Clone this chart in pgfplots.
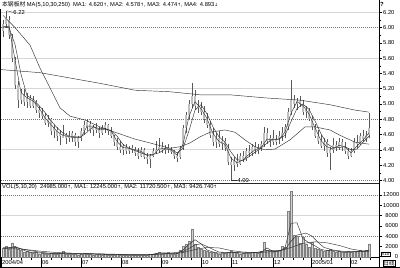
\documentclass[border=0pt]{standalone}
\usepackage{fontspec}
\setmainfont{Liberation Sans}
\newfontfamily\cjk{Noto Sans CJK SC}
\newfontfamily\sym{DejaVu Sans}
\usepackage{pgfplots}
\usepackage{pgfplotstable}
\pgfplotsset{compat=1.18}
\newcommand{\up}{{\sym\fontsize{4.5}{5}\selectfont ↑}}
\newcommand{\dn}{{\sym\fontsize{4.5}{5}\selectfont ↓}}
\newcommand{\tf}{\fontsize{5.8}{6.5}\selectfont}

\pgfplotstableread{
x o h l c v
3 5.95 6.10 5.88 6.05 1600
6 6.05 6.22 6.00 6.12 2000
9 6.10 6.15 5.85 5.90 1500
12 5.88 5.92 5.55 5.60 2700
15 5.58 5.62 5.20 5.25 1800
18 5.25 5.30 4.95 5.05 1400
21 5.05 5.20 5.00 5.15 1200
24 5.12 5.20 4.98 5.02 900
27 5.02 5.15 4.95 5.08 1000
30 5.08 5.12 4.95 4.98 800
33 4.98 5.10 4.95 5.05 700
36 5.02 5.05 4.88 4.92 900
39 4.92 4.98 4.82 4.88 600
42 4.88 4.95 4.80 4.84 700
45 4.84 4.88 4.72 4.75 600
48 4.75 4.85 4.70 4.80 500
51 4.80 4.82 4.60 4.65 700
54 4.65 4.72 4.55 4.68 500
57 4.66 4.70 4.52 4.58 600
60 4.58 4.66 4.46 4.62 700
63 4.60 4.72 4.55 4.56 1000
66 4.56 4.62 4.48 4.60 600
69 4.58 4.64 4.50 4.55 500
72 4.55 4.65 4.50 4.62 500
75 4.60 4.62 4.45 4.50 600
78 4.50 4.58 4.43 4.55 400
81 4.55 4.68 4.52 4.64 500
84 4.64 4.78 4.60 4.72 700
87 4.70 4.80 4.65 4.76 600
90 4.74 4.78 4.62 4.66 500
93 4.66 4.72 4.58 4.70 400
96 4.70 4.75 4.62 4.66 500
99 4.66 4.70 4.55 4.62 600
102 4.62 4.72 4.60 4.68 400
105 4.68 4.76 4.62 4.72 500
108 4.72 4.74 4.60 4.64 400
111 4.64 4.70 4.55 4.58 350
114 4.58 4.60 4.45 4.50 400
117 4.50 4.56 4.40 4.44 500
120 4.44 4.52 4.36 4.40 300
123 4.40 4.48 4.33 4.45 350
126 4.44 4.48 4.34 4.38 300
129 4.38 4.45 4.35 4.42 400
132 4.42 4.46 4.36 4.40 300
135 4.40 4.44 4.32 4.36 350
138 4.36 4.42 4.28 4.32 300
141 4.32 4.44 4.30 4.40 400
144 4.40 4.42 4.28 4.30 300
147 4.30 4.36 4.22 4.28 350
150 4.28 4.34 4.16 4.32 500
153 4.32 4.42 4.30 4.38 600
156 4.38 4.52 4.34 4.40 700
159 4.40 4.56 4.36 4.44 900
162 4.44 4.50 4.36 4.40 600
165 4.40 4.46 4.34 4.42 700
168 4.42 4.48 4.36 4.40 800
171 4.40 4.44 4.34 4.38 600
174 4.38 4.40 4.28 4.32 500
177 4.32 4.36 4.24 4.30 700
180 4.30 4.45 4.28 4.42 1200
183 4.42 4.72 4.40 4.68 2000
186 4.68 4.90 4.62 4.85 2500
189 4.85 5.05 4.80 5.00 3000
192 5.00 5.27 4.95 5.10 5400
195 5.10 5.18 4.92 4.98 2400
198 4.98 5.05 4.88 4.95 1800
201 4.95 5.02 4.85 4.90 1500
204 4.90 4.98 4.75 4.80 1200
207 4.80 4.88 4.68 4.72 1000
210 4.72 4.78 4.55 4.60 900
213 4.60 4.68 4.45 4.50 800
216 4.50 4.62 4.42 4.56 700
219 4.56 4.64 4.44 4.48 600
222 4.48 4.58 4.40 4.52 800
225 4.52 4.55 4.38 4.42 700
228 4.42 4.48 4.20 4.24 900
231 4.24 4.30 4.00 4.20 1000
234 4.20 4.30 4.12 4.26 800
237 4.26 4.34 4.18 4.22 700
240 4.22 4.36 4.20 4.32 600
243 4.32 4.38 4.24 4.28 700
246 4.28 4.42 4.26 4.38 800
249 4.38 4.46 4.30 4.36 700
252 4.36 4.48 4.32 4.44 900
255 4.44 4.50 4.34 4.40 800
258 4.40 4.48 4.34 4.42 700
261 4.42 4.52 4.38 4.48 1000
264 4.48 4.70 4.44 4.62 2900
267 4.62 4.68 4.48 4.52 1200
270 4.52 4.60 4.44 4.56 1000
273 4.56 4.66 4.46 4.50 900
276 4.50 4.60 4.46 4.54 1000
279 4.54 4.64 4.48 4.58 1300
282 4.58 4.70 4.52 4.62 2000
285 4.62 4.74 4.55 4.70 1800
288 4.70 4.95 4.66 4.90 8800
291 4.90 5.31 4.85 5.05 12700
294 5.05 5.12 4.95 5.00 4200
297 5.00 5.08 4.92 5.04 4000
300 5.04 5.10 4.96 5.00 2700
303 5.00 5.05 4.85 4.90 3900
306 4.90 4.98 4.82 4.92 2500
309 4.92 4.95 4.78 4.80 1800
312 4.80 4.84 4.66 4.70 2900
315 4.70 4.74 4.55 4.58 1600
318 4.58 4.66 4.48 4.52 1400
321 4.52 4.60 4.42 4.45 1200
324 4.45 4.56 4.38 4.50 1100
327 4.50 4.54 4.30 4.36 1300
330 4.36 4.44 4.13 4.40 1400
333 4.40 4.55 4.36 4.46 1000
336 4.46 4.52 4.38 4.42 900
339 4.42 4.56 4.40 4.50 1100
342 4.50 4.54 4.38 4.44 900
345 4.44 4.50 4.34 4.38 800
348 4.38 4.42 4.28 4.32 1000
351 4.32 4.42 4.30 4.38 900
354 4.38 4.56 4.36 4.50 1100
357 4.50 4.60 4.42 4.48 1000
360 4.48 4.62 4.46 4.58 1200
363 4.58 4.66 4.50 4.54 1000
366 4.54 4.64 4.50 4.60 1300
369 4.60 4.88 4.56 4.68 2500
}\price

\tikzset{
  gs/.style={black!16, line width=1.1bp},
  gd/.style={black!55, line width=0.4bp, dash pattern=on 0.6bp off 1.4bp},
  mal/.style={black!80, line width=0.45bp, mark=none},
}

\begin{document}
\begin{tikzpicture}[x=1bp,y=1bp]
\fill[white] (0,0) rectangle (400,268);
% grid lines of the price panel
\foreach \yy in {255.7,209.9,179.3,118.2} \draw[gs] (1,\yy) -- (379,\yy);
\foreach \yy in {240.4,148.7,87.6} \draw[gd] (1,\yy) -- (379,\yy);
% grid lines of the volume panel
\draw[gs] (1,52.4) -- (379,52.4);
\foreach \yy in {73.0,31.9} \draw[gd] (1,\yy) -- (379,\yy);

\begin{axis}[
  at={(1bp,85bp)}, anchor=south west, scale only axis,
  width=378bp, height=174bp,
  xmin=1, xmax=379, ymin=3.9657, ymax=6.2432,
  axis x line=none, axis y line*=right,
  axis line style={black, line width=0.6bp},
  ytick={4,4.2,4.4,4.6,4.8,5,5.2,5.4,5.6,5.8,6,6.2},
  minor y tick num=1,
  tick align=outside, major tick length=3bp, minor tick length=1.5bp,
  tick style={black, line width=0.4bp},
  yticklabel style={font=\tf, anchor=west, inner sep=0pt, xshift=1bp},
  yticklabel={\pgfmathprintnumber[fixed,fixed zerofill,precision=2]{\tick}},
  /pgf/number format/assume math mode=true,
]
\addplot[forget plot, draw=none, mark=none,
  error bars/.cd, y dir=both, y explicit, error mark=none,
  error bar style={draw=black!65, line width=0.4bp}]
  table[x=x, y expr={(\thisrow{h}+\thisrow{l})/2}, y error expr={(\thisrow{h}-\thisrow{l})/2}] {\price};
\addplot[forget plot, draw=none, mark=none,
  error bars/.cd, y dir=both, y explicit, error mark=none,
  error bar style={draw=gray!50, line width=1.4bp}]
  table[x=x, y expr={(\thisrow{o}+\thisrow{c})/2}, y error expr={max(abs(\thisrow{c}-\thisrow{o})/2,0.006)}] {\price};
% MA5
\addplot[mal] coordinates {(3,6.00)(9,6.02)(15,5.58)(21,5.15)(27,5.08)(33,5.04)(39,4.95)(45,4.82)(51,4.73)(57,4.64)(63,4.59)(69,4.57)(75,4.56)(81,4.56)(87,4.71)(93,4.71)(99,4.66)(105,4.67)(111,4.65)(117,4.51)(123,4.43)(129,4.42)(135,4.39)(141,4.36)(147,4.33)(153,4.33)(159,4.41)(165,4.42)(171,4.40)(177,4.33)(183,4.47)(189,4.84)(195,5.03)(201,4.94)(207,4.81)(213,4.61)(219,4.51)(225,4.47)(231,4.29)(237,4.23)(243,4.27)(249,4.34)(255,4.40)(261,4.43)(267,4.54)(273,4.53)(279,4.54)(285,4.63)(291,4.88)(297,5.03)(303,4.98)(309,4.87)(315,4.69)(321,4.52)(327,4.44)(333,4.41)(339,4.46)(345,4.44)(351,4.36)(357,4.45)(363,4.53)(369,4.62)};
% MA10
\addplot[mal] coordinates {(3,6.02)(9,6.00)(15,5.78)(21,5.39)(27,5.11)(33,5.06)(39,4.98)(45,4.89)(51,4.78)(57,4.69)(63,4.62)(69,4.58)(75,4.57)(81,4.57)(87,4.63)(93,4.70)(99,4.68)(105,4.68)(111,4.65)(117,4.58)(123,4.47)(129,4.42)(135,4.40)(141,4.38)(147,4.33)(153,4.34)(159,4.36)(165,4.41)(171,4.41)(177,4.36)(183,4.42)(189,4.65)(195,4.92)(201,4.99)(207,4.87)(213,4.70)(219,4.57)(225,4.50)(231,4.37)(237,4.27)(243,4.26)(249,4.31)(255,4.37)(261,4.42)(267,4.49)(273,4.54)(279,4.54)(285,4.59)(291,4.77)(297,4.94)(303,5.00)(309,4.93)(315,4.78)(321,4.61)(327,4.48)(333,4.43)(339,4.43)(345,4.44)(351,4.40)(357,4.41)(363,4.50)(369,4.578)};
% MA30
\addplot[mal] coordinates {(3,6.16)(15,6.00)(30,5.77)(40,5.47)(50,5.21)(60,4.95)(70,4.84)(85,4.79)(100,4.70)(115,4.63)(135,4.54)(150,4.49)(170,4.42)(180,4.44)(190,4.49)(200,4.57)(210,4.63)(225,4.66)(235,4.63)(245,4.53)(255,4.44)(265,4.40)(275,4.41)(290,4.53)(305,4.70)(315,4.70)(330,4.66)(340,4.59)(355,4.50)(369,4.474)};
% MA250
\addplot[mal] coordinates {(1,5.45)(40,5.41)(70,5.34)(100,5.27)(135,5.18)(170,5.16)(200,5.12)(230,5.12)(265,5.08)(300,5.05)(330,4.99)(355,4.92)(369,4.893)};
\draw[black!80, line width=0.35bp] (axis cs:7,6.22) -- (axis cs:13,6.20);
\node[anchor=west, inner sep=0.3bp, font=\tf] at (axis cs:13,6.20) {6.22};
\draw[black!80, line width=0.35bp] (axis cs:231,4.00) -- (axis cs:237,4.00);
\node[anchor=west, inner sep=0.3bp, font=\tf] at (axis cs:237,4.00) {4.00};
\end{axis}

\begin{axis}[
  at={(1bp,10.5bp)}, anchor=south west, scale only axis,
  width=378bp, height=72.5bp,
  xmin=1, xmax=379, ymin=-156, ymax=13946,
  axis x line*=bottom, axis y line*=right,
  axis line style={black, line width=0.6bp},
  xtick={1,41,81,121,161,201,231,273,311,350},
  xticklabels={2004/04,06,07,08,09,10,11,12,2005/01,02},
  minor xtick={11,21,31,51,61,71,91,101,111,131,141,151,171,181,191,211,221,241,251,261,283,293,303,321,331,341,360,370},
  ytick={0,2000,4000,6000,8000,10000,12000},
  tick align=outside, major tick length=3bp, minor tick length=2bp,
  tick style={black, line width=0.4bp},
  xticklabel style={font=\tf, anchor=north west, inner sep=0pt, xshift=1bp},
  yticklabel style={font=\tf, anchor=west, inner sep=0pt, text width=15bp, align=right, xshift=1bp},
  /pgf/number format/1000 sep={},
  scaled ticks=false,
  /pgf/number format/assume math mode=true,
]
\addplot[ybar, bar width=1.5, fill=gray!35, draw=black!50, line width=0.2bp] table[x=x, y=v] {\price};
% VOL MA5
\addplot[mal] coordinates {(3,1700)(9,1700)(15,2000)(21,1500)(27,1000)(33,800)(39,750)(45,650)(51,600)(57,600)(63,750)(69,700)(75,550)(81,500)(87,600)(93,500)(99,500)(105,450)(111,420)(117,420)(123,380)(129,350)(135,350)(141,330)(147,350)(153,480)(159,730)(165,730)(171,700)(177,600)(183,1300)(189,2400)(195,3300)(201,2500)(207,1300)(213,900)(219,700)(225,700)(231,870)(237,830)(243,670)(249,730)(255,800)(261,830)(267,1700)(273,1000)(279,1100)(285,1700)(291,6500)(297,6600)(303,3500)(309,2700)(315,2100)(321,1400)(327,1200)(333,1200)(339,1000)(345,900)(351,900)(357,1000)(363,1100)(369,1224)};
% VOL MA10
\addplot[mal] coordinates {(3,1700)(15,1800)(27,1300)(39,900)(51,650)(63,650)(75,620)(87,550)(99,520)(111,450)(123,400)(135,360)(147,350)(159,550)(171,700)(183,1000)(189,1600)(195,2300)(201,2500)(207,2000)(213,1400)(219,900)(231,800)(243,750)(255,780)(267,1200)(279,1200)(285,1400)(291,3000)(297,4200)(306,4600)(312,4000)(318,2800)(324,1800)(333,1300)(345,1000)(357,950)(369,1172)};
% VOL MA20
\addplot[mal] coordinates {(3,1600)(21,1500)(39,1100)(57,800)(75,650)(93,580)(111,500)(129,420)(147,380)(165,550)(183,800)(195,1400)(207,1800)(219,1700)(231,1200)(243,900)(255,800)(267,900)(279,1100)(291,1800)(303,2600)(315,2900)(327,2700)(339,2200)(351,1500)(363,1100)(369,943)};
\end{axis}

% month separators in the date row
\foreach \xx in {1,41,81,121,161,201,231,273,311,350} \draw[black, line width=0.4bp] (\xx,10.5) -- (\xx,1);
% frame
\draw[black, line width=1.2bp] (0.6,0) -- (0.6,259);
\draw[black, line width=0.6bp] (379,0) -- (379,268);
\draw[black!85, line width=1.6bp] (0,84.3) -- (379,84.3);
\draw[black, line width=0.6bp] (0,0.3) -- (400,0.3);
% headers
\node[anchor=west, inner sep=0pt, font=\tf] at (2,263.5) {{\cjk 本钢板材} MA(5,10,30,250)\ \ MA1: 4.620\up, MA2: 4.578\up, MA3: 4.474\up, MA4: 4.893\dn};
\node[anchor=west, inner sep=0pt, font=\tf] at (2,80.5) {VOL(5,10,20)\ \ 24985.000\up, MA1: 12245.000\up, MA2: 11720.500\up, MA3: 9426.740\up};
\node[inner sep=0pt, font=\bfseries\fontsize{6}{6}\selectfont] at (382,264) {?};
\node[draw, inner sep=0.5bp, line width=0.3bp, font=\fontsize{4.5}{5}\selectfont] at (385.5,14) {X10};
\node[draw, inner sep=0.6bp, line width=0.3bp, font=\cjk\fontsize{5.5}{6}\selectfont] at (389,5) {日线};
\pgfresetboundingbox
\useasboundingbox (0,0) rectangle (400,268);
\end{tikzpicture}
\end{document}
